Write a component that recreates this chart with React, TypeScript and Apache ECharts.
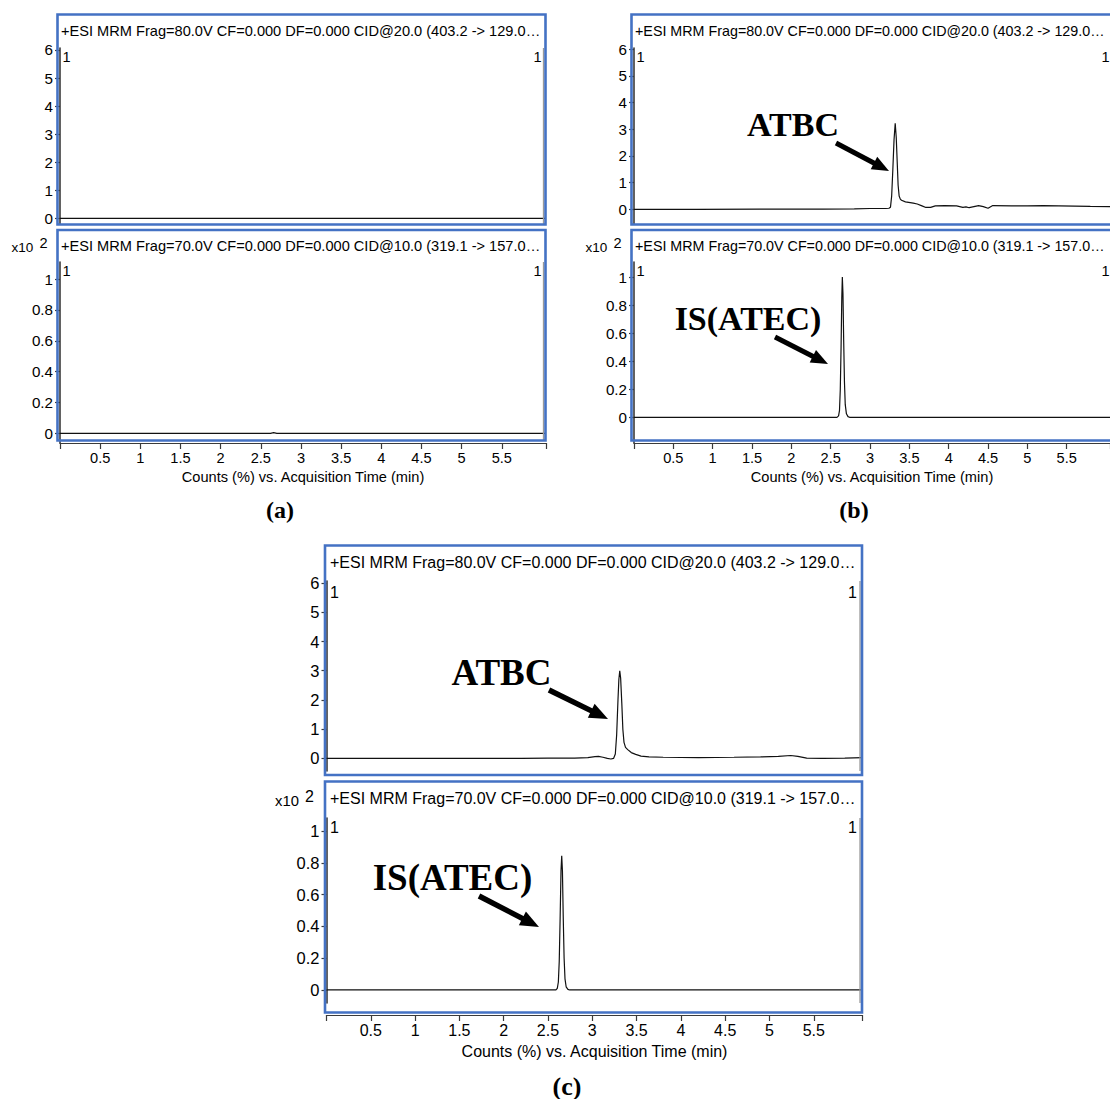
import React, { useEffect, useRef } from "react";
import * as echarts from "echarts";

// ---- tick labels ----
const xTickLabels = [0.5, 1, 1.5, 2, 2.5, 3, 3.5, 4, 4.5, 5, 5.5];
const xTickMarks = [0, 0.5, 1, 1.5, 2, 2.5, 3, 3.5, 4, 4.5, 5, 5.5, 6.05];
const yTicksUpper = [0, 1, 2, 3, 4, 5, 6];
const yTicksLower = [0, 0.2, 0.4, 0.6, 0.8, 1];

// ---- texts ----
const titleUpper = "+ESI MRM Frag=80.0V CF=0.000 DF=0.000 CID@20.0 (403.2 -> 129.0\u2026";
const titleLower = "+ESI MRM Frag=70.0V CF=0.000 DF=0.000 CID@10.0 (319.1 -> 157.0\u2026";
const xName = "Counts (%) vs. Acquisition Time (min)";
const panelLabels = ["(a)", "(b)", "(c)"];

// ---- traces: [time (min), counts] ----
const traceA1: [number, number][] = [[0, 0], [6.05, 0]];
const traceA2: [number, number][] = [[0, 0], [2.62, 0], [2.66, 0.004], [2.7, 0], [6.05, 0]];

const traceB1: [number, number][] = [
  [0, 0], [0.8, 0], [1.6, 0.01], [2.4, 0.01], [2.8, 0.02], [3.0, 0.03], [3.2, 0.03],
  [3.24, 0.04], [3.26, 0.08], [3.275, 0.5], [3.29, 1.5], [3.305, 2.6], [3.32, 3.22],
  [3.333, 2.7], [3.345, 1.8], [3.357, 0.9], [3.37, 0.5], [3.385, 0.38], [3.4, 0.34],
  [3.45, 0.28], [3.55, 0.23], [3.6, 0.2], [3.66, 0.13], [3.71, 0.07], [3.77, 0.07],
  [3.83, 0.13], [3.95, 0.14], [4.1, 0.13], [4.18, 0.07], [4.22, 0.09], [4.26, 0.06],
  [4.32, 0.1], [4.38, 0.14], [4.44, 0.1], [4.5, 0.04], [4.56, 0.14], [4.8, 0.13],
  [5.0, 0.13], [5.2, 0.14], [5.4, 0.13], [5.6, 0.12], [5.8, 0.11], [6.05, 0.1],
];
const traceB2: [number, number][] = [
  [0, 0], [2.58, 0], [2.6, 0.01], [2.612, 0.05], [2.622, 0.2], [2.632, 0.5], [2.641, 0.85],
  [2.648, 1.0], [2.656, 0.88], [2.665, 0.55], [2.675, 0.25], [2.685, 0.09], [2.7, 0.025],
  [2.72, 0.005], [2.74, 0], [6.05, 0],
];
const traceC1: [number, number][] = [
  [0, 0], [1.5, 0], [2.2, 0], [2.5, 0.01], [2.8, 0.01], [2.95, 0.03], [3.03, 0.06],
  [3.07, 0.07], [3.12, 0.04], [3.17, 0.0], [3.21, -0.02], [3.24, 0.0], [3.26, 0.15],
  [3.275, 0.8], [3.29, 2.0], [3.3, 2.7], [3.31, 3.0], [3.32, 2.75], [3.333, 1.9],
  [3.345, 1.0], [3.358, 0.55], [3.375, 0.38], [3.4, 0.3], [3.44, 0.2], [3.49, 0.14],
  [3.55, 0.08], [3.64, 0.05], [3.8, 0.04], [4.2, 0.03], [4.6, 0.04], [4.9, 0.05],
  [5.1, 0.07], [5.24, 0.1], [5.32, 0.07], [5.42, 0.01], [5.6, 0.0], [5.85, 0.01], [6.05, 0.03],
];
const traceC2: [number, number][] = [
  [0, 0], [2.59, 0], [2.605, 0.01], [2.617, 0.05], [2.627, 0.18], [2.637, 0.45],
  [2.647, 0.75], [2.655, 0.845], [2.663, 0.75], [2.672, 0.46], [2.682, 0.2], [2.692, 0.07],
  [2.705, 0.02], [2.725, 0.004], [2.745, 0], [6.05, 0],
];

const SANS = '"Liberation Sans", Arial, sans-serif';
const SERIF = '"Liberation Serif", "Times New Roman", serif';
const BLUE = "#4472C4";
const AXIS = "#3a3a3a";
const FS = 14.6;
const FSC = 16;

type GridDef = { left: number; top: number; width: number; height: number; ymin: number; ymax: number; ticks: number[]; fs: number; yfs: number; xAxis: boolean; xOffset: number; nameGap: number; data: [number, number][] };

const grids: GridDef[] = [
  { left: 60, top: 48, width: 486, height: 176, ymin: -0.2, ymax: 6.07, ticks: yTicksUpper, fs: FS, yfs: 15.2, xAxis: false, xOffset: 0, nameGap: 0, data: traceA1 },
  { left: 60, top: 262, width: 486, height: 181, ymin: -0.063, ymax: 1.111, ticks: yTicksLower, fs: FS, yfs: 15.2, xAxis: true, xOffset: 0, nameGap: 26, data: traceA2 },
  { left: 634, top: 48, width: 486, height: 176, ymin: -0.55, ymax: 6.04, ticks: yTicksUpper, fs: FS, yfs: 15.2, xAxis: false, xOffset: 0, nameGap: 0, data: traceB1 },
  { left: 634, top: 262, width: 486, height: 181, ymin: -0.183, ymax: 1.107, ticks: yTicksLower, fs: FS, yfs: 15.2, xAxis: true, xOffset: 0, nameGap: 26, data: traceB2 },
  { left: 326.5, top: 581, width: 536, height: 190, ymin: -0.43, ymax: 6.07, ticks: yTicksUpper, fs: FSC, yfs: 16.5, xAxis: false, xOffset: 0, nameGap: 0, data: traceC1 },
  { left: 326.5, top: 818, width: 536, height: 185, ymin: -0.082, ymax: 1.082, ticks: yTicksLower, fs: FSC, yfs: 16.5, xAxis: true, xOffset: 12, nameGap: 28, data: traceC2 },
];

function txt(x: number, y: number, text: string, size: number, opts: any = {}) {
  return {
    type: "text", x, y, z: 10,
    style: {
      text, fontSize: size, fontFamily: opts.family || SANS, fontWeight: opts.weight || "normal",
      fill: "#000", textAlign: opts.align || "left", textVerticalAlign: "middle", verticalAlign: "middle",
    },
  };
}
function box(x: number, y: number, w: number, h: number) {
  return { type: "rect", z: 5, shape: { x, y, width: w, height: h }, style: { fill: "none", stroke: BLUE, lineWidth: 2.6 } };
}
function vline(x: number, y1: number, y2: number) {
  return { type: "line", z: 4, shape: { x1: x, y1, x2: x, y2 }, style: { stroke: "#9a9a9a", lineWidth: 1.3 } };
}
function arrow(x1: number, y1: number, x2: number, y2: number, k: number) {
  const dx = x2 - x1, dy = y2 - y1;
  const L = Math.sqrt(dx * dx + dy * dy);
  const ux = dx / L, uy = dy / L;
  const hl = 17 * k, hw = 7 * k;
  const bx = x2 - ux * hl, by = y2 - uy * hl;
  const nx = -uy, ny = ux;
  return [
    { type: "line", z: 10, shape: { x1, y1, x2: bx + ux * 2, y2: by + uy * 2 }, style: { stroke: "#000", lineWidth: 5 * k } },
    { type: "polygon", z: 10, shape: { points: [[x2, y2], [bx + nx * hw, by + ny * hw], [bx - nx * hw, by - ny * hw]] }, style: { fill: "#000" } },
  ];
}

function buildGraphics() {
  const g: any[] = [];
  for (const dx of [0, 574]) {
    const rightX = dx === 0 ? 541.5 : 1109.5;
    const tfs = dx === 0 ? FS : 14.3;
    g.push(box(57.5 + dx, 14.5, 488, 210));
    g.push(box(57.5 + dx, 230, 488, 210.5));
    g.push(txt(61 + dx, 30.5, titleUpper, tfs));
    g.push(txt(61 + dx, 246, titleLower, tfs));
    g.push(txt(11.5 + dx, 247.5, "x10", 13.5));
    g.push(txt(39.5 + dx, 243, "2", 14.6));
    g.push(txt(62.5 + dx, 57, "1", FS));
    g.push(txt(rightX, 57, "1", FS, { align: "right" }));
    g.push(txt(62.5 + dx, 271, "1", FS));
    g.push(txt(rightX, 271, "1", FS, { align: "right" }));
    g.push(vline(543.5 + dx, 48, 224));
    g.push(vline(543.5 + dx, 262, 440));
  }
  g.push(txt(280, 510, panelLabels[0], 24, { family: SERIF, weight: "bold", align: "center" }));
  g.push(txt(854, 510, panelLabels[1], 24, { family: SERIF, weight: "bold", align: "center" }));
  // panel (c)
  g.push(box(325, 545.5, 537, 229.5));
  g.push(box(325, 781.5, 537, 231));
  g.push(txt(330, 562.5, titleUpper, FSC));
  g.push(txt(330, 798.5, titleLower, FSC));
  g.push(txt(275, 801, "x10", 14.8));
  g.push(txt(305, 796, "2", 16));
  g.push(txt(330, 592, "1", FSC));
  g.push(txt(857, 592, "1", FSC, { align: "right" }));
  g.push(txt(330, 827, "1", FSC));
  g.push(txt(857, 827, "1", FSC, { align: "right" }));
  g.push(vline(860, 581, 771));
  g.push(vline(860, 818, 1003));
  g.push(txt(567, 1086, panelLabels[2], 26, { family: SERIF, weight: "bold", align: "center" }));
  // annotations
  g.push(txt(793, 124, "ATBC", 34, { family: SERIF, weight: "bold", align: "center" }));
  g.push(...arrow(836, 143, 889, 171, 1));
  g.push(txt(748, 318, "IS(ATEC)", 34, { family: SERIF, weight: "bold", align: "center" }));
  g.push(...arrow(775, 337, 828, 364, 1));
  g.push(txt(501.5, 672, "ATBC", 37, { family: SERIF, weight: "bold", align: "center" }));
  g.push(...arrow(549, 690, 608, 719, 1.1));
  g.push(txt(452.5, 877, "IS(ATEC)", 37, { family: SERIF, weight: "bold", align: "center" }));
  g.push(...arrow(479, 896, 539, 927, 1.1));
  return g;
}

export default function App() {
  const ref = useRef<HTMLDivElement>(null);
  useEffect(() => {
    if (!ref.current) return;
    const chart = echarts.init(ref.current, undefined, { renderer: "svg" });
    const option: any = {
      animation: false,
      backgroundColor: "#ffffff",
      grid: grids.map((d) => ({ left: d.left, top: d.top, width: d.width, height: d.height, containLabel: false })),
      xAxis: grids.map((d, i) => ({
        type: "value", gridIndex: i, min: 0, max: 6.05, show: d.xAxis, position: "bottom", offset: d.xOffset,
        splitLine: { show: false },
        axisLine: { show: true, onZero: false, lineStyle: { color: AXIS, width: 1.2 } },
        axisTick: { show: true, inside: false, length: 6, customValues: xTickMarks, lineStyle: { color: AXIS, width: 1.2 } },
        axisLabel: { customValues: xTickLabels, fontSize: d.fs, fontFamily: SANS, color: "#000", margin: 7 },
        name: d.xAxis ? xName : "", nameLocation: "middle", nameGap: d.nameGap,
        nameTextStyle: { fontSize: d.fs, fontFamily: SANS, color: "#000" },
      })),
      yAxis: grids.map((d, i) => ({
        type: "value", gridIndex: i, min: d.ymin, max: d.ymax,
        splitLine: { show: false },
        axisLine: { show: true, onZero: false, lineStyle: { color: AXIS, width: 1.6 } },
        axisTick: { show: true, length: 5, customValues: d.ticks, lineStyle: { color: AXIS, width: 1.2 } },
        axisLabel: { customValues: d.ticks, fontSize: d.yfs, fontFamily: SANS, color: "#000", margin: 7 },
      })),
      series: grids.map((d, i) => ({
        type: "line", xAxisIndex: i, yAxisIndex: i, data: d.data, showSymbol: false, symbol: "none",
        lineStyle: { color: "#111", width: 1.2 }, silent: true, clip: true,
      })),
      graphic: { elements: buildGraphics() },
    };
    chart.setOption(option);
    return () => chart.dispose();
  }, []);
  return <div ref={ref} style={{ position: "fixed", left: 0, top: 0, width: 1110, height: 1099, background: "#fff" }} />;
}
